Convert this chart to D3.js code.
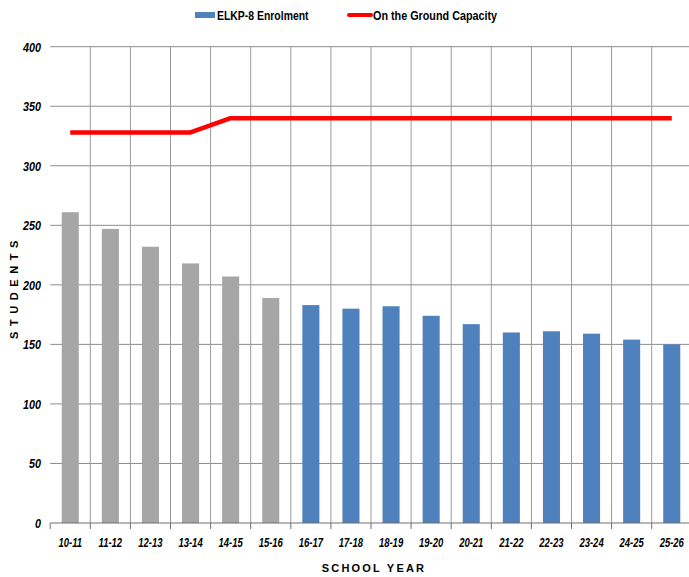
<!DOCTYPE html>
<html>
<head>
<meta charset="utf-8">
<script src="https://cdn.jsdelivr.net/npm/d3@7"></script>
<style>
  html, body { margin: 0; padding: 0; background: #fff; }
  svg { display: block; }
</style>
</head>
<body>
<svg id="chart" width="689" height="577"></svg>
<script>
// ---- data ----
const years = ["10-11","11-12","12-13","13-14","14-15","15-16","16-17","17-18","18-19","19-20","20-21","21-22","22-23","23-24","24-25","25-26"];
const enrolment = [261, 247, 232, 218, 207, 189, 183, 180, 182, 174, 167, 160, 161, 159, 154, 150];
const capacity = [328, 328, 328, 328, 340, 340, 340, 340, 340, 340, 340, 340, 340, 340, 340, 340];
const isProjected = [false, false, false, false, false, false, true, true, true, true, true, true, true, true, true, true];
const yTicks = [0, 50, 100, 150, 200, 250, 300, 350, 400];
const seriesNames = ["ELKP-8 Enrolment", "On the Ground Capacity"];
const axisTitles = { x: "SCHOOL YEAR", y: "STUDENTS" };

// ---- layout ----
const svg = d3.select("#chart");
const plotL = 50.2, plotR = 691.8, plotT = 46.7, plotB = 523;
const font = "'Liberation Sans', Arial, sans-serif";

const x = d3.scaleBand().domain(years).range([plotL, plotR]).paddingInner(0.575).paddingOuter(0.2875);
const y = d3.scaleLinear().domain([0, 400]).range([plotB, plotT]);
const step = x.step();
const boundary = c => x(c) - step * x.paddingInner() / 2;
const center = c => x(c) + x.bandwidth() / 2;

// horizontal gridlines
svg.append("g").selectAll("line").data(yTicks.filter(t => t > 0)).join("line")
  .attr("x1", plotL).attr("x2", 689)
  .attr("y1", d => y(d)).attr("y2", d => y(d))
  .attr("stroke", "#8c8c8c").attr("stroke-width", 1);

// vertical gridlines at category boundaries (skip first)
svg.append("g").selectAll("line").data(years.slice(1)).join("line")
  .attr("x1", d => boundary(d)).attr("x2", d => boundary(d))
  .attr("y1", plotT).attr("y2", plotB)
  .attr("stroke", "#9a9a9a").attr("stroke-width", 1);

// bars
svg.append("g").selectAll("rect").data(years).join("rect")
  .attr("x", d => x(d))
  .attr("width", x.bandwidth())
  .attr("y", (d, i) => y(enrolment[i]))
  .attr("height", (d, i) => y(0) - y(enrolment[i]))
  .attr("fill", (d, i) => isProjected[i] ? "#4f81bd" : "#a6a6a6");

// x axis line and ticks
svg.append("line").attr("x1", plotL).attr("x2", 689).attr("y1", plotB).attr("y2", plotB)
  .attr("stroke", "#6e6e6e").attr("stroke-width", 1.2);
svg.append("g").selectAll("line").data(years).join("line")
  .attr("x1", d => boundary(d)).attr("x2", d => boundary(d))
  .attr("y1", plotB).attr("y2", plotB + 6)
  .attr("stroke", "#6e6e6e").attr("stroke-width", 1);

// capacity line
const line = d3.line().x((d, i) => center(years[i])).y(d => y(d));
svg.append("path").datum(capacity).attr("d", line)
  .attr("fill", "none").attr("stroke", "#ff0000").attr("stroke-width", 4.5)
  .attr("stroke-linejoin", "round");

// y tick labels (condensed)
svg.append("g").selectAll("text").data(yTicks).join("text")
  .attr("transform", d => `translate(41,${y(d) + 5}) scale(0.83,1)`)
  .attr("text-anchor", "end")
  .attr("font-family", font).attr("font-weight", "bold").attr("font-style", "italic")
  .attr("font-size", 13).attr("fill", "#000")
  .text(d => d);

// x tick labels (condensed)
svg.append("g").selectAll("text").data(years).join("text")
  .attr("transform", d => `translate(${center(d)},546.5) scale(0.79,1)`)
  .attr("text-anchor", "middle")
  .attr("font-family", font).attr("font-weight", "bold").attr("font-style", "italic")
  .attr("font-size", 12).attr("fill", "#000")
  .text(d => d);

// axis titles
svg.append("text").attr("x", 374).attr("y", 572)
  .attr("text-anchor", "middle")
  .attr("font-family", font).attr("font-weight", "bold").attr("font-size", 11)
  .attr("letter-spacing", "2.2px").attr("fill", "#000")
  .text(axisTitles.x);
svg.append("text")
  .attr("transform", "translate(18,287) rotate(-90)")
  .attr("text-anchor", "middle")
  .attr("font-family", font).attr("font-weight", "bold").attr("font-size", 11)
  .attr("letter-spacing", "5.6px").attr("fill", "#000")
  .text(axisTitles.y);

// legend
const lg = svg.append("g");
lg.append("rect").attr("x", 195).attr("y", 12).attr("width", 20).attr("height", 6).attr("fill", "#4f81bd");
lg.append("text").attr("transform", "translate(217,19.5) scale(0.87,1)")
  .attr("font-family", font).attr("font-weight", "bold").attr("font-size", 12).attr("fill", "#000")
  .text(seriesNames[0]);
lg.append("line").attr("x1", 349).attr("x2", 371).attr("y1", 15).attr("y2", 15)
  .attr("stroke", "#ff0000").attr("stroke-width", 4).attr("stroke-linecap", "round");
lg.append("text").attr("transform", "translate(373,19.5) scale(0.9,1)")
  .attr("font-family", font).attr("font-weight", "bold").attr("font-size", 12).attr("fill", "#000")
  .text(seriesNames[1]);
</script>
</body>
</html>
